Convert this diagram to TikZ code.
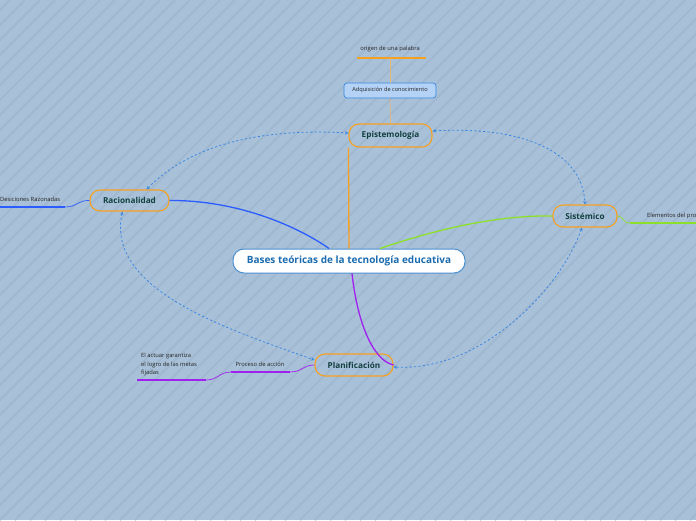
\documentclass[tikz,border=0pt]{standalone}
\usepackage{fontspec}
\setmainfont{Open Sans}
\usetikzlibrary{arrows.meta}
\definecolor{bg}{HTML}{A9C1D8}
\definecolor{stripe}{HTML}{A0B8D0}
\definecolor{orng}{HTML}{F5A020}
\definecolor{lorng}{HTML}{E6B878}
\definecolor{cblue}{HTML}{4A90D0}
\definecolor{ctext}{HTML}{1A6BB0}
\definecolor{ttext}{HTML}{123F3F}
\definecolor{rel}{HTML}{3A88E2}
\definecolor{boxfill}{HTML}{B4D2F6}
\definecolor{lblue}{HTML}{2A5CFF}
\definecolor{lgreen}{HTML}{8CE02A}
\definecolor{lpurp}{HTML}{A020F0}
\definecolor{stext}{HTML}{222222}
\begin{document}
\begin{tikzpicture}[x=1pt,y=-1pt,
  topic/.style={draw=orng, line width=1.1pt, rounded corners=10pt, text=ttext, font=\fontsize{8.2}{9}\selectfont\bfseries, inner sep=0pt},
  centralbox/.style={draw=cblue, fill=white, line width=1pt, rounded corners=11pt, text=ctext, font=\fontsize{10}{11}\selectfont\bfseries, inner sep=0pt},
  smallbox/.style={draw=rel, fill=boxfill, line width=0.7pt, rounded corners=3pt, text=stext, font=\fontsize{5.6}{6.5}\selectfont, inner sep=0pt},
  lbl/.style={text=stext, font=\fontsize{5.8}{8.5}\selectfont, inner sep=0pt},
  relarrow/.style={draw=rel, line width=0.8pt, dash pattern=on 2.2pt off 2.2pt, {Stealth[length=3.5pt,width=3.5pt]}-{Stealth[length=3.5pt,width=3.5pt]}},
  mainline/.style={line width=1.3pt},
  subline/.style={line width=0.7pt},
  uline/.style={line width=1.6pt}
]
\fill[bg] (0,0) rectangle (696,520);
\begin{scope}
\clip (0,0) rectangle (696,520);
\foreach \i in {-525,-510,...,705} \draw[stripe, line width=2pt] (\i,520) -- ({\i+520},0);
\end{scope}
\useasboundingbox (0,0) rectangle (696,520);

% nodes
\node[centralbox, minimum width=232pt, minimum height=24pt] (central) at (349,261) {Bases teóricas de la tecnología educativa};
\node[topic, minimum width=83pt, minimum height=23pt] (episte) at (390.5,135.5) {Epistemología};
\node[topic, minimum width=79pt, minimum height=21pt] (racio) at (129.5,200.5) {Racionalidad};
\node[topic, minimum width=64pt, minimum height=22pt] (siste) at (585,216) {Sistémico};
\node[topic, minimum width=78pt, minimum height=22pt] (plani) at (354,365) {Planificación};
\node[smallbox, minimum width=92pt, minimum height=15pt] (adqui) at (390,90.5) {Adquisición de conocimiento};

% labels with underlines
\node[lbl] (origen) at (390,49) {origen de una palabra};
\coordinate (origenL) at (357,58);
\coordinate (origenR) at (426,58);
\coordinate (origenM) at (390,58);
\draw[orng, uline] (origenL) -- (origenR);

\node[lbl, anchor=west] (desic) at (0,199.5) {Desiciones Razonadas};
\coordinate (desicL) at (0,207);
\coordinate (desicR) at (65,207);
\draw[lblue, uline] (desicL) -- (desicR);

\node[lbl, anchor=west] (eleme) at (647,215.5) {Elementos del pro};
\coordinate (elemeL) at (630,223);
\coordinate (elemeR) at (696,223);
\draw[lgreen, uline] (elemeL) -- (elemeR);

\node[lbl] (proce) at (260,364) {Proceso de acción};
\coordinate (proceL) at (231,372);
\coordinate (proceR) at (290,372);
\draw[lpurp, uline] (proceL) -- (proceR);

\node[lbl, anchor=north west, align=left] (actuar) at (141,353) {El actuar garantiza\\ el logro de las metas\\ fijadas};
\coordinate (actuarL) at (137,380);
\coordinate (actuarR) at (206,380);
\draw[lpurp, uline] (actuarL) -- (actuarR);

% main connectors
\draw[orng, mainline] ([xshift=0pt]central.north) -- (episte.south west |- episte.south);
\draw[lblue, mainline] (racio.east) .. controls (240,200) and (300,228) .. ([xshift=-20pt]central.north);
\draw[lgreen, mainline] ([xshift=31pt]central.north) .. controls (440,228) and (500,215) .. (siste.west);
\draw[lpurp, mainline] ([xshift=3pt]central.south) .. controls (357,320) and (372,360) .. (plani.east);

% sub connectors
\draw[lorng, subline] (origenM) -- (adqui.north);
\draw[lorng, subline] (adqui.south) -- (episte.north);
\draw[lblue, subline] (racio.west) .. controls (78,200) and (77,207) .. (desicR);
\draw[lgreen, subline] (siste.east) .. controls (624,216) and (622,223) .. (elemeL);
\draw[lpurp, subline] (plani.west) .. controls (303,365) and (302,372) .. (proceR);
\draw[lpurp, subline] (proceL) .. controls (219,372) and (218,380) .. (actuarR);

% relationships
\draw[relarrow] ([xshift=17pt]racio.north) .. controls (190,145) and (260,128) .. ([yshift=2.5pt]episte.west);
\draw[relarrow] ([yshift=4.5pt]episte.east) .. controls (520,126) and (582,150) .. (siste.north);
\draw[relarrow] ([xshift=-3pt]siste.south) .. controls (560,290) and (480,372) .. ([yshift=-2pt]plani.east);
\draw[relarrow] ([xshift=-7pt]racio.south) .. controls (105,290) and (230,330) .. ([yshift=5pt]plani.west);
\end{tikzpicture}
\end{document}
